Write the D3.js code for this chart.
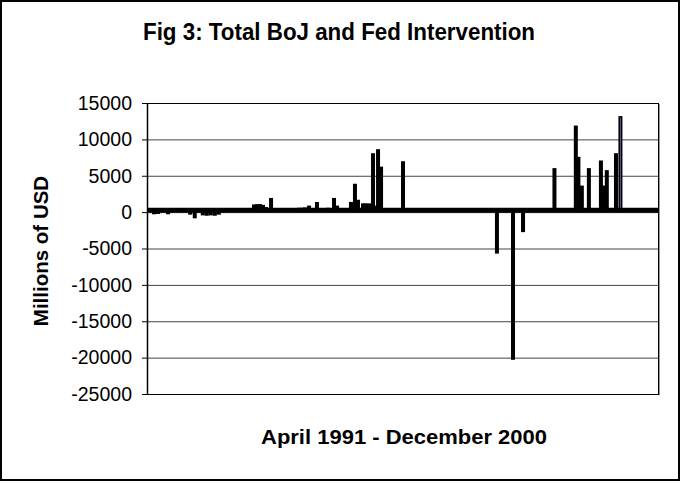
<!DOCTYPE html>
<html>
<head>
<meta charset="utf-8">
<script src="https://cdn.jsdelivr.net/npm/d3@7"></script>
<style>
  body { margin: 0; background: #fff; }
  text { font-family: Arial, "Liberation Sans", sans-serif; }
</style>
</head>
<body>
<div id="chart"></div>
<script>
// intervention dates (only non-zero days) and amounts, millions of USD
var dates = [
  "1991-05-20", "1991-06-17", "1991-08-26", "1992-01-27", "1992-02-28",
  "1992-04-24", "1992-05-22", "1992-06-19", "1992-07-17", "1992-08-14",
  "1993-04-16", "1993-05-07", "1993-05-28", "1993-06-18", "1993-07-09", "1993-08-13",
  "1994-02-24", "1994-03-17", "1994-04-07", "1994-05-05", "1994-06-29",
  "1994-09-14", "1994-09-28", "1994-10-26", "1994-11-16",
  "1995-02-21", "1995-03-07", "1995-03-21", "1995-04-11", "1995-05-16",
  "1995-05-30", "1995-06-13", "1995-06-27", "1995-07-25", "1995-08-08",
  "1995-08-29", "1995-09-19", "1996-02-19",
  "1997-12-05", "1998-03-27", "1998-06-05",
  "1999-01-10", "1999-06-08", "1999-06-26", "1999-07-20", "1999-09-07",
  "1999-11-30", "1999-12-21", "2000-01-10", "2000-03-14", "2000-04-14"
];
var amounts = [
  -300, -250, -300, -350, -850,
  -450, -500, -450, -500, -350,
  1050, 1100, 1100, 1000, 700, 1950,
  600, 600, 650, 900, 1400,
  600, 550, 1950, 900,
  1400, 1300, 3900, 1700, 1200,
  1200, 1150, 1200, 8100, 900,
  8650, 6250, 7000,
  -5700, -20300, -2750,
  6050, 11900, 7600, 3650, 6050,
  7100, 3650, 5770, 8100, 13200
];
var yTicks = [15000, 10000, 5000, 0, -5000, -10000, -15000, -20000, -25000];
var periodStart = "1991-04-01", periodEnd = "2001-01-01";

var title = "Fig 3: Total BoJ and Fed Intervention",
    xTitle = "April 1991 - December 2000",
    yTitle = "Millions of USD";

var W = 682, H = 483;
var margin = {top: 103, right: 24, bottom: 89, left: 147},
    width = W - margin.left - margin.right,
    height = H - margin.top - margin.bottom;

var parse = d3.timeParse("%Y-%m-%d");
var data = dates.map(function (d, i) { return {date: parse(d), value: amounts[i]}; });

var svg = d3.select("#chart").append("svg")
    .attr("width", W)
    .attr("height", H);

// chart frame
svg.append("rect")
    .attr("x", 1).attr("y", 1)
    .attr("width", W - 4).attr("height", H - 4)
    .attr("fill", "#fff")
    .attr("stroke", "#000")
    .attr("stroke-width", 2);

var g = svg.append("g")
    .attr("transform", "translate(" + margin.left + "," + margin.top + ")");

var x = d3.scaleTime()
    .domain([parse(periodStart), parse(periodEnd)])
    .range([0, width]);

var y = d3.scaleLinear()
    .domain([-25000, 15000])
    .range([height, 0]);

// gridlines
g.append("g")
  .selectAll("line")
  .data(yTicks.filter(function (t) { return t !== 15000 && t !== -25000; }))
  .enter().append("line")
    .attr("x1", 0).attr("x2", width)
    .attr("y1", function (d) { return y(d) + 0.5; })
    .attr("y2", function (d) { return y(d) + 0.5; })
    .attr("stroke", "#444")
    .attr("stroke-width", 1);

// plot border
g.append("rect")
    .attr("x", 0.5).attr("y", 0.5)
    .attr("width", width).attr("height", height)
    .attr("fill", "none")
    .attr("stroke", "#000")
    .attr("stroke-width", 1);
g.append("line")
    .attr("x1", width + 1.5).attr("x2", width + 1.5)
    .attr("y1", 1).attr("y2", height + 1.5)
    .attr("stroke", "#999");

// y axis
var yAxis = g.append("g")
    .call(d3.axisLeft(y).tickValues(yTicks).tickFormat(function (d) { return String(d); })
      .tickSize(5).tickPadding(10).tickSizeOuter(0));
yAxis.select(".domain").attr("stroke-width", 1.5);
yAxis.selectAll(".tick line").attr("stroke-width", 1);
yAxis.selectAll("text")
    .style("font-size", "19.5px")
    .attr("fill", "#000");

// bars
g.append("g")
  .selectAll("rect")
  .data(data)
  .enter().append("rect")
    .attr("x", function (d) { return x(d.date) - 2; })
    .attr("width", 4)
    .attr("y", function (d) { return Math.min(y(d.value), y(0)); })
    .attr("height", function (d) { return Math.abs(y(d.value) - y(0)); })
    .attr("fill", "#000");

// the peak bar shows its fill
var peak = data.reduce(function (a, b) { return b.value > a.value ? b : a; });
g.append("line")
    .attr("x1", x(peak.date)).attr("x2", x(peak.date))
    .attr("y1", y(peak.value) + 1.5).attr("y2", y(0) - 2)
    .attr("stroke", "#5555b0")
    .attr("stroke-width", 1);

// category axis at zero (dense zero-value bars make a thick band)
g.append("g")
    .attr("transform", "translate(0," + (y(0) - 2.5) + ")")
    .call(d3.axisBottom(x).tickValues([]).tickSizeOuter(0))
  .select(".domain")
    .attr("stroke", "#000")
    .attr("stroke-width", 5);

// titles
svg.append("text")
    .attr("x", 339).attr("y", 40)
    .attr("text-anchor", "middle")
    .attr("textLength", 392)
    .attr("lengthAdjust", "spacingAndGlyphs")
    .style("font-size", "23px")
    .style("font-weight", "bold")
    .text(title);

svg.append("text")
    .attr("x", 404).attr("y", 444)
    .attr("text-anchor", "middle")
    .attr("textLength", 286)
    .attr("lengthAdjust", "spacingAndGlyphs")
    .style("font-size", "21px")
    .style("font-weight", "bold")
    .text(xTitle);

svg.append("text")
    .attr("transform", "translate(48,251) rotate(-90)")
    .attr("text-anchor", "middle")
    .style("font-size", "20.5px")
    .style("font-weight", "bold")
    .text(yTitle);
</script>
</body>
</html>
